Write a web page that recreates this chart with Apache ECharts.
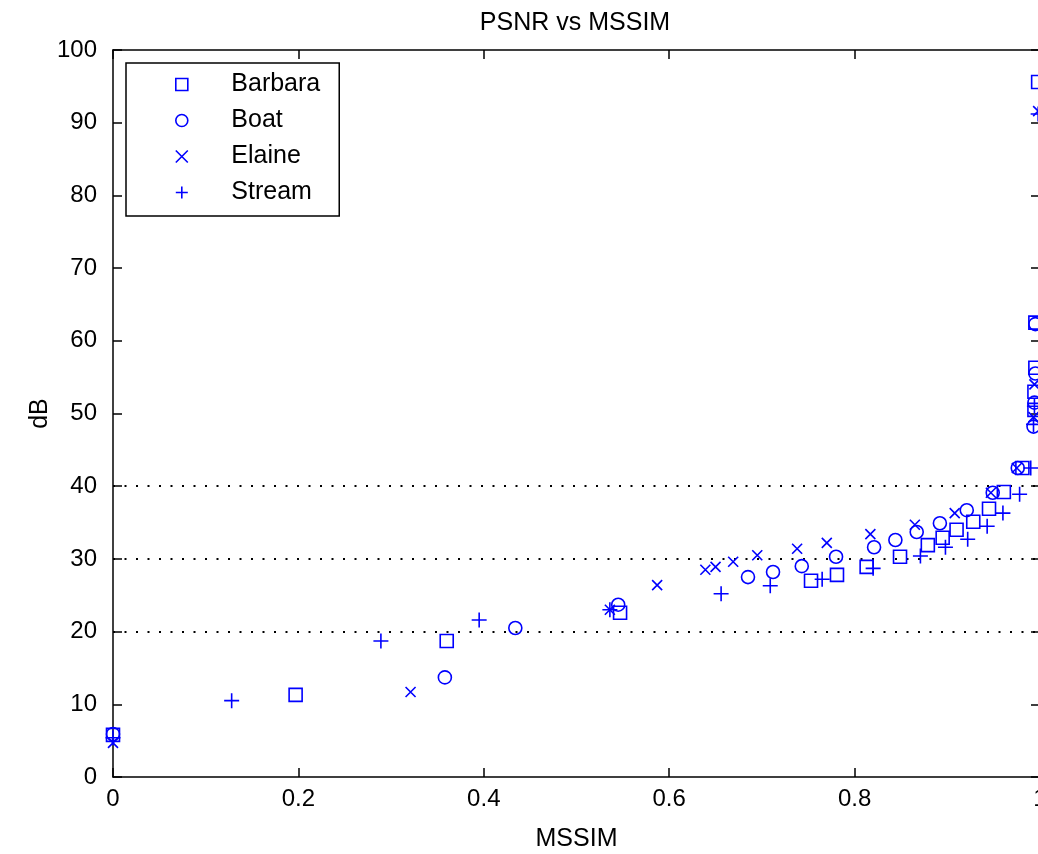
<!DOCTYPE html>
<html>
<head>
<meta charset="utf-8">
<script src="https://cdn.jsdelivr.net/npm/echarts@6/dist/echarts.min.js"></script>
<style>
html,body{margin:0;padding:0;background:#fff;overflow:hidden;}
#c{position:absolute;left:0;top:0;width:1042px;height:854px;}
</style>
</head>
<body>
<div id="c"></div>
<script>
var seriesNames = ['Barbara', 'Boat', 'Elaine', 'Stream'];
var xTicks = [0, 0.2, 0.4, 0.6, 0.8, 1];
var yTicks = [0, 10, 20, 30, 40, 50, 60, 70, 80, 90, 100];
var dottedLevels = [20, 30, 40];

var barbara = [
  [0, 5.8], [0.197, 11.3], [0.360, 18.7], [0.547, 22.6], [0.753, 27.0], [0.781, 27.8],
  [0.813, 28.9], [0.849, 30.3], [0.879, 31.9], [0.895, 32.9], [0.910, 34.0], [0.928, 35.1],
  [0.945, 36.9], [0.961, 39.2], [0.981, 42.5], [0.994, 50.5], [0.994, 53.0], [0.995, 56.3],
  [0.995, 62.5], [0.998, 95.6]
];
var boat = [
  [0, 5.9], [0.358, 13.7], [0.434, 20.5], [0.545, 23.7], [0.685, 27.5], [0.712, 28.2],
  [0.743, 29.0], [0.780, 30.3], [0.821, 31.6], [0.844, 32.6], [0.867, 33.7], [0.892, 34.9],
  [0.921, 36.7], [0.949, 39.1], [0.976, 42.5], [0.993, 48.2], [0.994, 51.5], [0.995, 55.5],
  [0.995, 62.3]
];
var elaine = [
  [0, 4.7], [0.321, 11.7], [0.536, 23.0], [0.587, 26.4], [0.639, 28.5], [0.650, 28.9],
  [0.669, 29.6], [0.695, 30.5], [0.738, 31.4], [0.770, 32.2], [0.817, 33.4], [0.865, 34.7],
  [0.908, 36.3], [0.947, 39.1], [0.975, 42.5], [0.993, 49.5], [0.994, 54.0], [0.998, 91.6]
];
var stream = [
  [0, 5.4], [0.128, 10.5], [0.289, 18.7], [0.395, 21.6], [0.536, 23.0], [0.656, 25.2],
  [0.709, 26.3], [0.765, 27.2], [0.820, 28.7], [0.871, 30.4], [0.898, 31.6], [0.922, 32.7],
  [0.943, 34.5], [0.960, 36.3], [0.978, 38.9], [0.990, 42.5], [0.993, 48.5], [0.994, 51.0],
  [0.998, 91.2]
];

var BLUE = '#0000ff';
var FONT = 'Liberation Sans, Arial, sans-serif';
var symbols = ['path://M0,0L10,0L10,10L0,10Z', 'circle', 'path://M0,0L10,10M10,0L0,10', 'path://M5,0L5,10M0,5L10,5'];
var sizes = [13, 13, 10, 15];
var datas = [barbara, boat, elaine, stream];

var series = seriesNames.map(function (n, i) {
  return {
    name: n,
    type: 'scatter',
    data: datas[i],
    symbol: symbols[i],
    symbolSize: sizes[i],
    symbolKeepAspect: true,
    clip: false,
    itemStyle: { color: 'rgba(0,0,0,0)', borderColor: BLUE, borderWidth: 1.6, opacity: 1 },
    emphasis: { disabled: true },
    z: 5
  };
});
series.push({
  name: 'grid',
  type: 'scatter',
  data: [],
  silent: true,
  markLine: {
    silent: true,
    symbol: ['none', 'none'],
    label: { show: false },
    lineStyle: { color: '#000', type: [2, 9.5], width: 2 },
    data: dottedLevels.map(function (v) { return { yAxis: v }; }),
    z: 1
  }
});

function xAx(pos, showLabel) {
  return {
    type: 'value', position: pos, min: 0, max: 1, interval: 0.2,
    name: showLabel ? 'MSSIM' : '', nameLocation: 'middle', nameGap: 50,
    nameTextStyle: { fontFamily: FONT, fontSize: 25, color: '#000' },
    axisLine: { show: true, onZero: false, lineStyle: { color: '#000', width: 1.5 } },
    axisTick: { show: true, inside: true, length: 9, lineStyle: { color: '#000', width: 1.5 } },
    axisLabel: { show: showLabel, margin: 10, fontFamily: FONT, fontSize: 24, color: '#000',
      formatter: function (v) { return String(+v.toFixed(1)); } },
    splitLine: { show: false }
  };
}
function yAx(pos, showLabel) {
  return {
    type: 'value', position: pos, min: 0, max: 100, interval: 10,
    name: showLabel ? 'dB' : '', nameLocation: 'middle', nameGap: 60, nameRotate: 90,
    nameMoveOverlap: false,
    nameTextStyle: { fontFamily: FONT, fontSize: 25, color: '#000' },
    axisLine: { show: true, onZero: false, lineStyle: { color: '#000', width: 1.5 } },
    axisTick: { show: true, inside: true, length: 9, lineStyle: { color: '#000', width: 1.5 } },
    axisLabel: { show: showLabel, margin: 16, fontFamily: FONT, fontSize: 24, color: '#000' },
    splitLine: { show: false }
  };
}

var chart = echarts.init(document.getElementById('c'), null, { renderer: 'canvas', width: 1042, height: 854 });
chart.setOption({
  animation: false,
  backgroundColor: '#fff',
  title: {
    text: 'PSNR vs MSSIM', left: 570, top: 6, textAlign: 'center',
    textStyle: { fontFamily: FONT, fontSize: 25, fontWeight: 'normal', color: '#000' }
  },
  grid: { left: 113, top: 50, right: 2, bottom: 77, containLabel: false, outerBoundsMode: 'none' },
  xAxis: [xAx('bottom', true), xAx('top', false)],
  yAxis: [yAx('left', true), yAx('right', false)],
  legend: {
    data: seriesNames.map(function (n, i) {
      return { name: n, icon: symbols[i] };
    }),
    orient: 'vertical',
    left: 126, top: 63,
    itemWidth: 13, itemHeight: 12, itemGap: 11,
    symbolKeepAspect: true,
    padding: [9, 19, 11, 49],
    backgroundColor: '#fff', borderColor: '#000', borderWidth: 1.5,
    selectedMode: false,
    textStyle: { fontFamily: FONT, fontSize: 25, color: '#000', lineHeight: 25, padding: [0, 0, 0, 38] },
    itemStyle: { color: 'rgba(0,0,0,0)', borderColor: BLUE, borderWidth: 1.6 }
  },
  series: series
});
</script>
</body>
</html>
